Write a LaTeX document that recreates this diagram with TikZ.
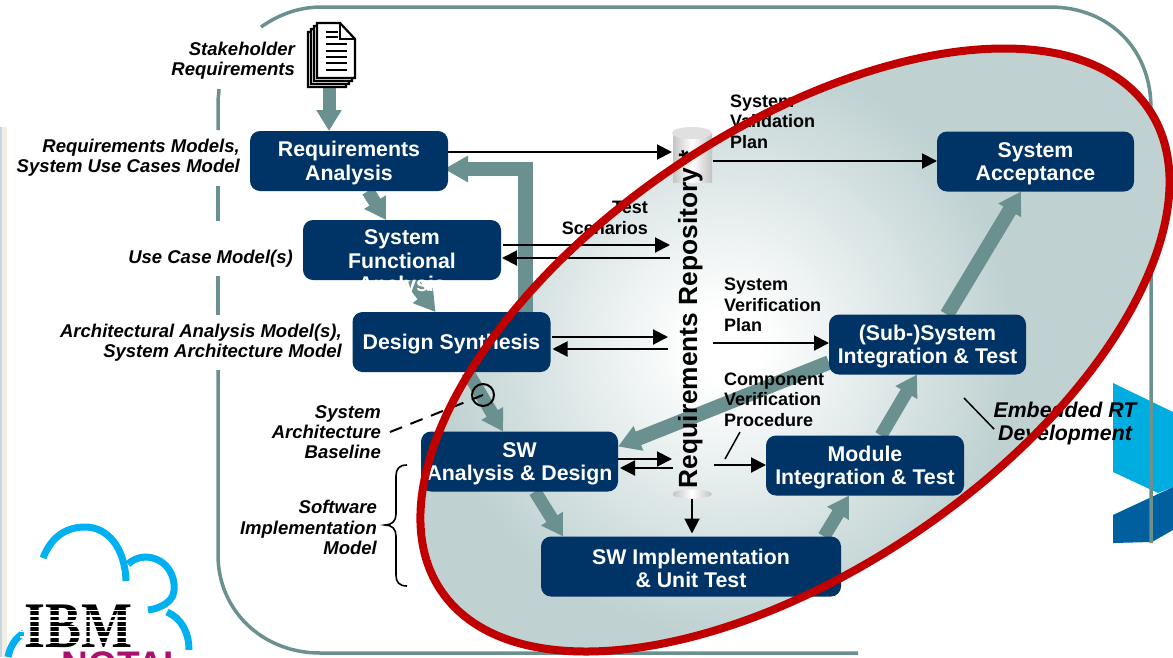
\documentclass[tikz,border=0pt]{standalone}
\usepackage{fontspec}
\setmainfont{Liberation Sans}
\newfontfamily\slabfont{Liberation Serif}
\usetikzlibrary{arrows.meta,calc}
\pgfdeclarelayer{bglayer}
\pgfdeclarelayer{flowlayer}
\pgfsetlayers{bglayer,flowlayer,main}
\definecolor{navy}{HTML}{003366}
\definecolor{teal2}{HTML}{6B9090}
\definecolor{ellgray}{HTML}{BFD1D1}
\definecolor{redline}{HTML}{C00000}
\definecolor{cyanlogo}{HTML}{00ADE0}
\definecolor{bluelogo}{HTML}{00609F}
\definecolor{cloudblue}{HTML}{00B0F0}
\definecolor{magentalogo}{HTML}{A8126E}
\definecolor{stripb}{HTML}{C9D5E0}
\definecolor{stripc}{HTML}{F1EEE4}
\newcommand{\lowerline}{\rule{0pt}{19.5pt}}
\pgfdeclareradialshading{glow}{\pgfpointorigin}{color(0bp)=(white);color(3bp)=(white);color(25bp)=(ellgray);color(50bp)=(ellgray)}
\pgfdeclarehorizontalshading{cylshade}{50bp}{color(0bp)=(black!24);color(25bp)=(white);color(50bp)=(black!24)}
\tikzset{
  x=1pt,y=-1pt,
  navybox/.style={draw=none,fill=navy,rounded corners=10pt,minimum width=198pt,minimum height=60pt,inner sep=0pt,outer sep=0pt,text=white,align=center,font=\fontsize{21.3}{23.3}\selectfont\bfseries},
  flow/.style={teal2,line width=13pt,-{Triangle[length=21pt,width=24pt]}},
  bigflow/.style={teal2,line width=14.5pt,-{Triangle[length=22pt,width=25pt]}},
  blk/.style={black,line width=2pt,-{Triangle[length=15pt,width=15pt]}},
  lbl/.style={align=right,anchor=east,inner sep=0pt,font=\fontsize{18.5}{20.3}\selectfont\bfseries\itshape},
  plan/.style={align=left,anchor=west,inner sep=0pt,font=\fontsize{18}{20.4}\selectfont\bfseries},
  frameline/.style={teal2,line width=3.5pt},
  pagesheet/.style={draw=black,line width=2.2pt,fill=white,line join=miter},
  cloudarc/.style={cloudblue,line width=7pt},
}
\begin{document}
\begin{tikzpicture}
\useasboundingbox (0,0) rectangle (1173,657);
% boxes
\node[navybox] (req) at (349,161) {\lowerline Requirements\\Analysis};
\node[navybox] (sf) at (402,250) {\rule{0pt}{19.5pt}\raisebox{-13pt}[8pt][8pt]{\begin{tabular}{@{}c@{}}System\\Functional\\Analysis\end{tabular}}};
\node[navybox] (ds) at (451.5,342) {\lowerline Design Synthesis};
\node[navybox,minimum width=197pt] (sw) at (519.5,461.5) {\lowerline SW\\Analysis \& Design};
\node[navybox,minimum width=300pt] (impl) at (691,566.5) {\lowerline SW Implementation\\\& Unit Test};
\node[navybox] (mod) at (865,465.5) {\lowerline Module\\Integration \& Test};
\node[navybox,minimum width=197pt] (sub) at (927.5,344.5) {\lowerline (Sub-)System\\Integration \& Test};
\node[navybox,minimum width=197pt] (acc) at (1035.5,161.5) {\lowerline System\\Acceptance};
\coordinate (doc) at (329,85);
\begin{pgfonlayer}{bglayer}
% left edge strip
\fill[stripc] (0,127) rectangle (7,657);
\fill[stripb] (0,127) rectangle (2,657);
% logos
\fill[cyanlogo] (1113,383) -- (1173,412) -- (1173,487) -- (1158,493) -- (1113,472) -- cycle;
\fill[bluelogo] (1113,515) -- (1173,487) -- (1173,530) -- (1152,542) -- (1113,543) -- cycle;
\draw[cloudarc] (43,558) .. controls (52,535) and (68,527) .. (85,527) .. controls (108,527) and (125,548) .. (126,581);
\draw[cloudarc] (128,564) .. controls (138,555) and (150,556) .. (158,560) .. controls (175,568) and (178,592) .. (170,600) .. controls (164,606) and (156,609) .. (148,610);
\draw[cloudarc] (167,612) .. controls (181,618) and (189,632) .. (189,650);
\draw[cloudarc] (8,657) .. controls (10,647) and (15,638) .. (24,633);
\fill[white] (24,606) rectangle (134,650);
\fill[white] (24,650) rectangle (193,657);
\node[inner sep=0pt,anchor=north,text=magentalogo,font=\fontsize{37}{37}\selectfont\bfseries] (notai) at (118,651.5) {NOTAI};
\node[inner sep=0pt,anchor=center,font=\slabfont\fontsize{65}{65}\selectfont\bfseries,xscale=.83] (ibm) at (78,626) {IBM};
\foreach \yy in {610.5,615.8,621.1,626.4,631.7,637,642.3} \draw[white,line width=1.5pt] (20,\yy) -- (136,\yy);
% frame
\draw[frameline] (261,27) .. controls (278,15) and (298,7) .. (322,7) -- (1050,7) .. controls (1110,7) and (1151,50) .. (1151,108) -- (1151,543);
\draw[frameline] (219,89) .. controls (219,93) and (218,98) .. (218,102) -- (218,130);
\draw[frameline] (218,186) -- (218,221);
\draw[frameline] (218,276) -- (218,315);
\draw[frameline] (218,370) -- (218,555) .. controls (218,610) and (262,653) .. (320,653) -- (858,653);
% ellipse fill with soft centre
\begin{scope}
\clip[rotate around={34.3:(795,350)}] (799,351) circle[x radius=428,y radius=219];
\fill[ellgray] (350,0) rectangle (1173,657);
\shade[shading=glow] (725,345) circle[radius=290];
\end{scope}
\end{pgfonlayer}
\begin{pgfonlayer}{flowlayer}
% thick process arrows
\draw[flow] (doc) -- (doc |- req.north);
\draw[flow] ([xshift=118pt]req.south west) -- ([xshift=83pt]sf.north west);
\draw[flow] ([xshift=108pt]sf.south west) -- ([xshift=83pt]ds.north west);
\draw[flow] ([xshift=115pt]ds.south west) -- ([xshift=82pt]sw.north west);
\draw[flow] ([xshift=114pt]sw.south west) -- ([xshift=22pt]impl.north west);
\draw[flow] ([xshift=283pt]impl.north west) -- ([xshift=83pt]mod.south west);
\draw[flow] ([xshift=115pt]mod.north west) -- ([xshift=88pt]sub.south west);
\draw[bigflow] ([xshift=118pt]sub.north west) -- ([xshift=84pt]acc.south west);
\draw[bigflow] ([yshift=-48pt]sub.north west) -- ([yshift=-15pt]sw.north east);
\draw[teal2,line width=14.5pt,-{Triangle[length=24pt,width=25pt]}] ([xshift=173pt]ds.north west) |- ([yshift=-38pt,xshift=-4pt]req.north east);
% repository cylinder
\shade[shading=cylshade] (672,133) rectangle (712,182);
\fill[black!12] (692,133) ellipse[x radius=20,y radius=6];
\shade[shading=cylshade] (692,494) ellipse[x radius=20,y radius=4.5];
\end{pgfonlayer}
% repository
\node[inner sep=0pt,outer sep=0pt,rotate=90,anchor=base west,font=\fontsize{26.3}{26}\selectfont\bfseries] (repo) at (697,488) {Requirements Repository *};
\coordinate (repotop) at (672,152);
\coordinate (repomid) at (713,161);
\coordinate (repoA) at (670,245);
\coordinate (repoB) at (670,258);
\coordinate (repoC) at (668,337);
\coordinate (repoD) at (668,349);
\coordinate (repoE) at (713,343);
\coordinate (repoF) at (672,459);
\coordinate (repoG) at (673,468);
\coordinate (repoH) at (714,465);
\coordinate (repoI) at (692,499);
% thin arrows
\draw[blk] (req.east |- repotop) -- (repotop);
\draw[blk] (repomid) -- (acc.west |- repomid);
\draw[blk] ([xshift=2pt]sf.east |- repoA) -- (repoA);
\draw[blk] (repoB) -- ([xshift=1pt]sf.east |- repoB);
\draw[blk] ([xshift=1pt]ds.east |- repoC) -- (repoC);
\draw[blk] (repoD) -- ([xshift=2pt]ds.east |- repoD);
\draw[blk] (repoE) -- (sub.west |- repoE);
\draw[blk] (sw.east |- repoF) -- (repoF);
\draw[blk] (repoG) -- ([xshift=2pt]sw.east |- repoG);
\draw[blk] (repoH) -- (mod.west |- repoH);
\draw[blk] (repoI) -- ([yshift=3pt]impl.north -| repoI);
% labels
\node[lbl] (stake) at (295,61) {Stakeholder\\Requirements};
\node[lbl] (rmodels) at (240,158) {Requirements Models,\\System Use Cases Model};
\node[lbl] (ucm) at (293,259) {Use Case Model(s)};
\node[lbl] (aam) at (342,343) {Architectural Analysis Model(s),\\System Architecture Model};
\node[lbl] (sab) at (381,432) {System\\Architecture\\Baseline};
\node[lbl] (sim) at (377,527.5) {Software\\Implementation\\Model};
\node[plan] (valplan) at (730,121.5) {System\\Validation\\Plan};
\node[plan,align=right,anchor=east] (testsc) at (648,218) {Test\\Scenarios};
\node[plan] (verplan) at (724,305) {System\\Verification\\Plan};
\node[plan] (compver) at (724,399.5) {Component\\Verification\\Procedure};
\node[inner sep=0pt,align=center,font=\fontsize{21.3}{23}\selectfont\bfseries\itshape] (embed) at (1065,423.5) {Embedded RT\\Development};
% leaders, brace
\coordinate (compA) at (725,459);
\coordinate (compB) at (740,432);
\coordinate (embA) at (964,398);
\coordinate (embB) at (994,429);
\draw[line width=1.5pt] (compA) -- (compB);
\draw[line width=1.5pt] (embA) -- (embB);
\draw[line width=1.6pt] (407,465) .. controls (399,465) and (396,469) .. (396,476) -- (396,514) .. controls (396,521) and (392,525) .. (385,525) .. controls (392,525) and (396,529) .. (396,536) -- (396,575) .. controls (396,582) and (399,586) .. (407,586);
\node[draw=black,line width=2pt,circle,minimum size=22pt,inner sep=0pt] (base) at (483,395) {};
\coordinate (sabend) at (390,432);
\draw[line width=2pt,dash pattern=on 13pt off 9pt] (sabend) -- (base.center);
% red ellipse
\draw[redline,line width=8pt,rotate around={34.3:(795,350)}] (795,350) circle[x radius=428,y radius=219];
% document icon
\foreach \dd in {9,6,3,0}
  \draw[pagesheet,shift={(-\dd,\dd)}] (317,23) -- (340,23) -- (355,39) -- (355,78) -- (317,78) -- cycle;
\draw[line width=1.8pt] (340,23) -- (340,39) -- (355,39);
\foreach \yy in {31.6,37.3} \draw[line width=2pt] (326,\yy) -- (338,\yy);
\foreach \yy in {44.3,50.7,56.7,63.3,70.3} \draw[line width=2pt] (326,\yy) -- (347,\yy);
\end{tikzpicture}
\end{document}
